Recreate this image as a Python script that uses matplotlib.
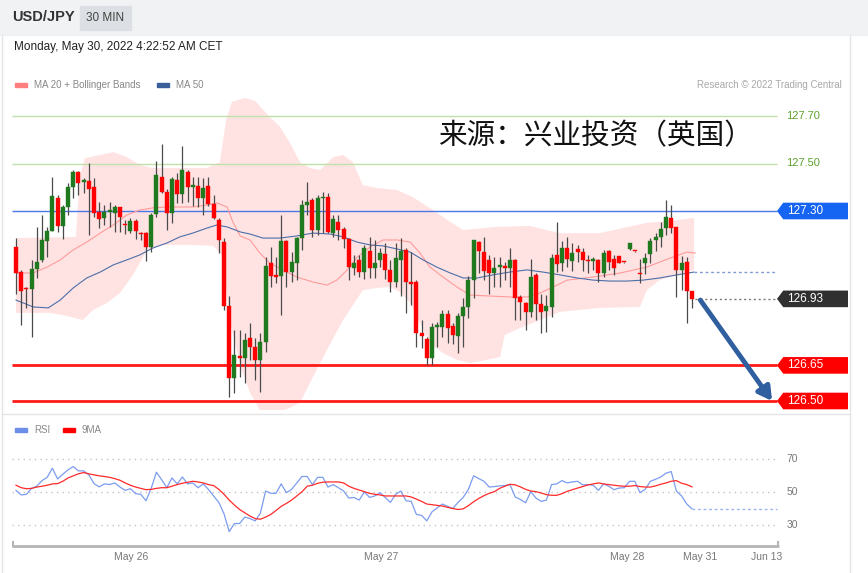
import numpy as np
import matplotlib
matplotlib.use("Agg")
import matplotlib.pyplot as plt
from matplotlib.patches import Rectangle, Polygon

plt.rcParams['font.family'] = ['Liberation Sans', 'DejaVu Sans']

# 30 min candles, index 0 = first candle on the left
opens = [127.150, 127.045, 126.975, 126.970, 127.054, 127.094, 127.175, 127.217, 127.353, 127.238,
         127.315, 127.402, 127.466, 127.421, 127.428, 127.402, 127.297, 127.272, 127.297, 127.290,
         127.315, 127.245, 127.217, 127.259, 127.209, 127.206, 127.150, 127.287, 127.445, 127.381,
         127.290, 127.430, 127.372, 127.463, 127.400, 127.405, 127.353, 127.405, 127.329, 127.262,
         127.171, 126.900, 126.595, 126.690, 126.680, 126.767, 126.729, 126.673, 126.748, 127.080,
         127.028, 127.026, 127.175, 127.044, 127.080, 127.185, 127.325, 127.346, 127.220, 127.353,
         127.357, 127.206, 127.252, 127.223, 127.181, 127.061, 127.094, 127.044, 127.133, 127.059,
         127.094, 127.119, 127.052, 127.002, 127.094, 127.136, 127.001, 127.001, 126.785, 126.762,
         126.680, 126.813, 126.813, 126.866, 126.817, 126.775, 126.858, 126.897, 127.009, 127.169,
         127.129, 127.094, 127.038, 127.066, 127.068, 127.061, 127.094, 126.936, 126.911, 126.876,
         127.030, 126.907, 126.880, 126.897, 127.113, 127.080, 127.143, 127.091, 127.139, 127.129,
         127.094, 127.091, 127.094, 127.040, 127.132, 127.098, 127.110, 127.086, 127.139, 127.131,
         127.039, 127.080, 127.119, 127.178, 127.192, 127.227, 127.269, 127.231, 127.052, 127.087,
         126.963]
highs = [127.185, 127.050, 126.981, 127.094, 127.234, 127.283, 127.234, 127.442, 127.367, 127.325,
         127.416, 127.473, 127.470, 127.437, 127.501, 127.437, 127.339, 127.325, 127.339, 127.325,
         127.318, 127.262, 127.269, 127.265, 127.213, 127.213, 127.290, 127.512, 127.582, 127.391,
         127.445, 127.459, 127.574, 127.473, 127.445, 127.445, 127.437, 127.445, 127.367, 127.269,
         127.185, 126.942, 126.799, 126.799, 126.785, 126.827, 126.764, 126.785, 127.108, 127.150,
         127.108, 127.283, 127.178, 127.129, 127.192, 127.346, 127.423, 127.353, 127.367, 127.381,
         127.374, 127.283, 127.283, 127.234, 127.185, 127.115, 127.115, 127.157, 127.189, 127.178,
         127.143, 127.164, 127.094, 127.164, 127.185, 127.143, 127.129, 127.009, 126.841, 126.771,
         126.830, 126.834, 126.883, 126.883, 126.827, 126.872, 126.932, 127.028, 127.180, 127.174,
         127.192, 127.115, 127.105, 127.108, 127.087, 127.143, 127.096, 126.946, 126.918, 127.096,
         127.038, 126.949, 126.946, 127.119, 127.255, 127.175, 127.192, 127.164, 127.157, 127.143,
         127.115, 127.108, 127.096, 127.136, 127.136, 127.115, 127.112, 127.087, 127.166, 127.132,
         127.100, 127.122, 127.185, 127.206, 127.255, 127.346, 127.325, 127.234, 127.110, 127.108,
         126.965]
lows = [126.950, 126.820, 126.890, 126.771, 127.016, 127.087, 127.108, 127.215, 127.213, 127.181,
        127.283, 127.353, 127.367, 127.374, 127.199, 127.276, 127.227, 127.241, 127.234, 127.213,
        127.213, 127.202, 127.206, 127.181, 127.178, 127.089, 127.129, 127.276, 127.374, 127.220,
        127.251, 127.332, 127.332, 127.339, 127.321, 127.315, 127.283, 127.321, 127.265, 127.122,
        126.883, 126.518, 126.532, 126.602, 126.574, 126.673, 126.588, 126.539, 126.708, 126.981,
        126.995, 126.862, 126.981, 127.002, 127.009, 127.136, 127.283, 127.192, 127.199, 127.206,
        127.206, 127.192, 127.178, 127.143, 127.009, 127.030, 127.023, 127.012, 127.016, 127.016,
        127.066, 127.012, 126.960, 126.981, 126.942, 126.872, 126.904, 126.729, 126.722, 126.652,
        126.652, 126.729, 126.771, 126.743, 126.740, 126.701, 126.729, 126.848, 126.932, 127.040,
        127.009, 126.949, 126.981, 126.981, 127.009, 126.981, 126.841, 126.841, 126.799, 126.855,
        126.841, 126.788, 126.792, 126.855, 127.045, 127.049, 127.066, 127.049, 127.087, 127.049,
        127.038, 127.052, 127.002, 127.023, 127.052, 127.030, 127.080, 127.083, 127.137, 127.129,
        126.998, 127.035, 127.080, 127.133, 127.150, 127.199, 127.206, 126.939, 126.967, 126.830,
        126.890]
closes = [127.037, 126.965, 126.970, 127.054, 127.087, 127.178, 127.216, 127.363, 127.238, 127.315,
          127.402, 127.466, 127.419, 127.430, 127.391, 127.293, 127.265, 127.297, 127.304, 127.318,
          127.273, 127.240, 127.259, 127.217, 127.203, 127.150, 127.283, 127.452, 127.381, 127.290,
          127.433, 127.372, 127.473, 127.400, 127.409, 127.353, 127.395, 127.329, 127.269, 127.178,
          126.900, 126.595, 126.694, 126.682, 126.757, 126.726, 126.673, 126.748, 127.068, 127.026,
          127.024, 127.175, 127.044, 127.084, 127.185, 127.325, 127.336, 127.220, 127.353, 127.357,
          127.213, 127.266, 127.220, 127.181, 127.066, 127.082, 127.044, 127.143, 127.059, 127.080,
          127.122, 127.052, 127.002, 127.101, 127.133, 127.002, 126.993, 126.788, 126.774, 126.680,
          126.813, 126.816, 126.866, 126.806, 126.778, 126.858, 126.897, 127.009, 127.178, 127.132,
          127.049, 127.038, 127.061, 127.070, 127.060, 127.094, 126.932, 126.918, 126.876, 127.021,
          126.907, 126.873, 126.901, 127.103, 127.075, 127.146, 127.099, 127.124, 127.129, 127.094,
          127.089, 127.093, 127.038, 127.124, 127.087, 127.059, 127.083, 127.085, 127.164, 127.130,
          127.034, 127.101, 127.175, 127.192, 127.223, 127.276, 127.230, 127.052, 127.082, 126.965,
          126.928]

# Bollinger band (MA 20) and MA 50, read at candle positions
bb_up_x = [0, 11.5, 12.3, 13.3, 16.2, 18.7, 21.3, 23.8, 26.3, 36.7, 39.2, 40.4, 41.5, 44, 46, 48.8,
           50.8, 52.7, 54.6, 56.5, 58.5, 61, 62.9, 64.8, 66.7, 69.4, 73.3, 76.3, 81, 83.5, 86, 92.1,
           98.8, 104.6, 112.3, 121, 127.3, 130.4]
bb_up = [127.186, 127.191, 127.452, 127.523, 127.536, 127.548, 127.527, 127.494, 127.481, 127.481,
         127.506, 127.683, 127.759, 127.776, 127.763, 127.696, 127.654, 127.586, 127.506, 127.481,
         127.473, 127.527, 127.536, 127.506, 127.409, 127.397, 127.388, 127.359, 127.292, 127.254,
         127.220, 127.233, 127.237, 127.207, 127.207, 127.249, 127.262, 127.271]
bb_low_x = [0, 6.5, 9.8, 12.9, 14.8, 17.5, 20, 22.5, 25.2, 27.7, 34, 37.9, 39.6, 41.2, 43.1, 45, 46.9,
            51.7, 54.6, 57.1, 59.8, 62.9, 66.7, 69.4, 71.9, 73.8, 75.8, 77.7, 79.6, 82.1, 84.8, 87.3,
            90.6, 93.1, 94, 96.9, 104.6, 112.3, 120, 121.3, 123.8, 130.4]
bb_low = [126.871, 126.871, 126.858, 126.841, 126.883, 126.913, 126.955, 127.031, 127.136, 127.157,
          127.157, 127.153, 127.115, 126.828, 126.652, 126.534, 126.462, 126.462, 126.492, 126.601,
          126.715, 126.841, 126.967, 126.976, 126.980, 126.959, 126.913, 126.828, 126.744, 126.702,
          126.673, 126.660, 126.673, 126.685, 126.778, 126.807, 126.875, 126.892, 126.896, 126.967,
          127.009, 127.052]
ma20_x = [0, 3.3, 6, 8.5, 11, 13.6, 16.2, 18.7, 21.3, 23.8, 26.3, 29, 34, 36.7, 38.6, 40.6, 41.7,
          43.1, 45, 46.9, 48.8, 51.3, 54, 57.1, 59.8, 61.7, 63.7, 65.6, 68.1, 70.6, 73.3, 75.8, 77.7,
          79.6, 82.1, 84.8, 87.3, 95, 98.3, 100.8, 103.3, 106, 111, 116.2, 121.3, 126.3, 129, 130.6]
ma20 = [127.039, 127.039, 127.064, 127.094, 127.136, 127.169, 127.207, 127.241, 127.283, 127.304,
        127.313, 127.317, 127.317, 127.325, 127.334, 127.317, 127.254, 127.195, 127.178, 127.123,
        127.081, 127.052, 127.022, 127.001, 126.988, 127.009, 127.052, 127.106, 127.148, 127.178,
        127.178, 127.169, 127.123, 127.064, 127.022, 126.980, 126.946, 126.938, 126.938, 126.955,
        126.980, 127.009, 127.022, 127.039, 127.064, 127.106, 127.127, 127.123]
ma50_x = [0, 3.3, 6.2, 8.5, 11, 13.6, 16.2, 18.7, 21.3, 23.8, 26.3, 29, 31.5, 34, 36.7, 38.6, 40.6,
          43.1, 45, 47.5, 50.8, 54, 57.1, 60.4, 62.9, 65.6, 68.1, 70.6, 73.3, 75.8, 78.3, 80.9, 83.5,
          86, 88.7, 91.7, 95, 98.3, 101.3, 104.6, 107.9, 111, 114.2, 117.5, 120.6, 123.8, 127.1, 130.4]
ma50 = [126.925, 126.896, 126.892, 126.925, 126.976, 127.018, 127.043, 127.073, 127.094, 127.115,
        127.144, 127.165, 127.191, 127.207, 127.228, 127.241, 127.233, 127.212, 127.203, 127.186,
        127.186, 127.195, 127.207, 127.203, 127.191, 127.169, 127.157, 127.153, 127.140, 127.127,
        127.094, 127.064, 127.039, 127.018, 127.018, 127.031, 127.043, 127.052, 127.043, 127.031,
        127.018, 127.009, 127.005, 127.005, 127.009, 127.018, 127.031, 127.043]

# RSI panel
rsi = [51.0, 48.2, 48.6, 52.2, 53.5, 56.9, 58.9, 64.4, 57.9, 60.8,
       63.4, 65.4, 62.8, 62.8, 60.4, 55.1, 53.1, 54.9, 54.5, 55.5,
       53.0, 51.0, 52.0, 49.0, 48.6, 44.7, 52.2, 62.0, 57.5, 52.6,
       58.5, 54.9, 59.1, 54.9, 55.5, 52.6, 54.9, 51.6, 47.6, 43.7,
       36.8, 26.0, 30.9, 30.9, 34.8, 33.9, 32.5, 37.2, 50.6, 49.2,
       49.2, 54.9, 49.6, 51.6, 55.5, 59.4, 59.4, 54.5, 58.9, 58.9,
       53.0, 54.5, 52.6, 50.6, 46.3, 46.7, 45.1, 50.0, 46.7, 47.6,
       49.6, 46.7, 43.7, 48.6, 50.6, 44.7, 44.3, 36.4, 35.8, 32.5,
       38.0, 40.4, 42.7, 41.3, 40.0, 43.7, 46.7, 51.6, 59.8, 58.1,
       56.5, 53.0, 53.3, 53.7, 53.9, 54.5, 47.0, 45.5, 43.5, 50.2,
       46.3, 44.3, 45.1, 54.5, 54.9, 56.9, 55.5, 56.1, 56.5, 54.3,
       54.5, 54.1, 51.0, 54.9, 53.5, 51.4, 52.4, 52.6, 56.5, 56.5,
       49.6, 51.6, 56.5, 57.7, 59.1, 61.4, 62.4, 50.6, 47.6, 42.7,
       39.8]
rsi_ma9 = [54.1, 52.6, 52.0, 52.2, 53.0, 53.5, 54.1, 54.9, 55.1, 56.5,
           58.5, 59.8, 61.0, 61.8, 61.0, 60.4, 59.8, 59.4, 58.9, 58.1,
           57.1, 55.5, 54.1, 53.0, 52.2, 51.4, 51.6, 52.2, 52.6, 52.6,
           53.5, 54.5, 55.3, 55.9, 56.5, 56.1, 55.5, 54.5, 53.9, 51.6,
           48.6, 45.1, 42.1, 39.4, 37.4, 35.4, 33.9, 33.5, 34.8, 36.4,
           38.8, 41.3, 43.1, 45.1, 47.6, 50.2, 53.5, 54.1, 55.3, 55.9,
           56.1, 56.1, 56.1, 55.5, 53.5, 52.2, 51.2, 50.2, 49.2, 48.6,
           48.2, 47.6, 47.6, 47.6, 47.6, 47.6, 47.0, 45.7, 44.3, 42.7,
           42.3, 41.9, 41.5, 40.7, 40.0, 39.4, 39.8, 41.7, 44.1, 46.1,
           47.8, 49.2, 50.2, 52.2, 53.5, 54.7, 54.3, 53.1, 51.6, 50.6,
           50.2, 49.4, 48.4, 48.0, 48.0, 49.0, 50.4, 51.4, 52.4, 53.3,
           54.3, 54.9, 55.5, 54.9, 54.5, 54.1, 53.7, 53.5, 53.5, 53.9,
           53.3, 53.0, 53.0, 53.7, 54.7, 55.5, 56.5, 56.9, 55.3, 54.5,
           53.1]
rsi_levels = [70, 50, 30]

date_ticks = [22.1, 70.2, 117.5, 131.5, 144.4]
date_labels = ['May 26', 'May 27', 'May 28', 'May 31', 'Jun 13']

resistances = [127.70, 127.50]
pivot = 127.30
supports = [126.65, 126.50]
last_price = 126.93
target = 126.50

W, H = 868, 573
fig = plt.figure(figsize=(W / 100, H / 100), dpi=100)


def fx(px):
    return px / W


def fy(py):
    return 1 - py / H


# header band and frame
fig.patches.append(Rectangle((0, fy(35)), 1, 35 / H, transform=fig.transFigure,
                             color='#f1f2f4', zorder=0))
fig.patches.append(Rectangle((fx(80), fy(30)), 51 / W, 24 / H, transform=fig.transFigure,
                             color='#dcdfe3', zorder=1))
fig.lines.append(plt.Line2D([fx(850), fx(850)], [fy(35), 0], transform=fig.transFigure,
                            color='#e3e5e8', lw=1))
fig.lines.append(plt.Line2D([fx(2), fx(2)], [fy(35), 0], transform=fig.transFigure,
                            color='#e3e5e8', lw=1))
fig.lines.append(plt.Line2D([fx(2), fx(850)], [fy(414), fy(414)], transform=fig.transFigure,
                            color='#e3e5e8', lw=1))
fig.text(fx(12), fy(17), 'USD/JPY', fontsize=10.5, fontweight='bold', color='#333333', va='center')
fig.text(fx(105.5), fy(18), '30 MIN', fontsize=8.5, color='#444444', va='center', ha='center')
fig.text(fx(14), fy(47), 'Monday, May 30, 2022 4:22:52 AM CET', fontsize=8.5, color='#222222',
         va='center')

# legends
fig.patches.append(Rectangle((fx(15), fy(87)), 12 / W, 4 / H, transform=fig.transFigure, color='#ff7f7f'))
fig.text(fx(34), fy(85), 'MA 20 + Bollinger Bands', fontsize=7, color='#888888', va='center')
fig.patches.append(Rectangle((fx(157), fy(87)), 12 / W, 4 / H, transform=fig.transFigure, color='#3a5f9a'))
fig.text(fx(176), fy(85), 'MA 50', fontsize=7, color='#888888', va='center')
fig.text(fx(842), fy(85), 'Research © 2022 Trading Central', fontsize=7, color='#a8a8a8',
         va='center', ha='right')
fig.patches.append(Rectangle((fx(15), fy(432)), 12 / W, 4 / H, transform=fig.transFigure, color='#6b8ee8'))
fig.text(fx(34), fy(430), 'RSI', fontsize=7, color='#888888', va='center')
fig.patches.append(Rectangle((fx(63), fy(432)), 12 / W, 4 / H, transform=fig.transFigure, color='#ff0000'))
fig.text(fx(82), fy(430), '9MA', fontsize=7, color='#888888', va='center')

x_left = (12 - 16) / 5.2
x_right = (850 - 16) / 5.2
x_line_end = (777 - 16) / 5.2

# ---- main price chart ----
ax = fig.add_axes([fx(12), fy(412), fx(850) - fx(12), (412 - 95) / H])
ax.set_xlim(x_left, x_right)
ax.set_ylim(127.70 - (412 - 116) / 237.5, 127.70 + (116 - 95) / 237.5)
ax.axis('off')

band = Polygon(list(zip(bb_up_x, bb_up)) + list(zip(bb_low_x, bb_low))[::-1],
               closed=True, facecolor='#ffe3e3', edgecolor='none', zorder=1)
ax.add_patch(band)
ax.plot(ma20_x, ma20, color='#ff9a9a', lw=0.8, zorder=2)
ax.plot(ma50_x, ma50, color='#4b6fa8', lw=0.8, zorder=2)
ax.plot([ma50_x[-1], x_line_end], [ma50[-1], ma50[-1]], color='#7d9bd0', lw=1, ls=(0, (2, 2)), zorder=2)

for lv in resistances:
    ax.hlines(lv, x_left, x_line_end, color='#bfe0a8', lw=1, zorder=1.5)
    ax.text(148.1, lv, '%.2f' % lv, color='#5ba22c', fontsize=8, va='center')
ax.hlines(pivot, x_left, x_line_end, color='#4a78e6', lw=1, zorder=1.5)
for lv in supports:
    ax.hlines(lv, x_left, x_line_end, color='#ff1a1a', lw=2, zorder=1.5)

n = len(opens)
idx = np.arange(n)
ax.plot([n - 0.5, x_line_end], [last_price, last_price], color='#777777', lw=1, ls=(0, (1.5, 2)), zorder=2)

for i in idx:
    o, h, l, c = opens[i], highs[i], lows[i], closes[i]
    col = '#1f7a1f' if c >= o else '#ff0000'
    ax.vlines(i, l, h, color='#4a4a4a', lw=0.9, zorder=3)
    bottom = min(o, c)
    height = max(abs(c - o), 0.005)
    ax.add_patch(Rectangle((i - 0.37, bottom), 0.74, height, facecolor=col,
                           edgecolor=col, lw=0.3, zorder=4))


def price_tag(level, face, text_col='white'):
    hh = 0.035
    pts = [(x_line_end, level), (x_line_end + 1.2, level + hh), (160.0, level + hh),
           (160.0, level - hh), (x_line_end + 1.2, level - hh)]
    ax.add_patch(Polygon(pts, closed=True, facecolor=face, edgecolor='none', zorder=5))
    ax.text(x_line_end + 1.9, level, '%.2f' % level, color=text_col, fontsize=8.5,
            va='center', zorder=6)


price_tag(pivot, '#1664f2')
price_tag(last_price, '#303030')
for lv in supports:
    price_tag(lv, '#ff0000')

ax.annotate('', xy=(145.4, target), xytext=(n + 0.6, last_price - 0.005),
            arrowprops=dict(arrowstyle='-|>,head_length=0.8,head_width=0.45', lw=3.5,
                            color='#2f5f9e', shrinkA=0, shrinkB=0), zorder=6)

fig.text(fx(438), fy(136), '来源：兴业投资（英国）', fontsize=20.6, color='#111111', va='center',
         family=['Noto Sans CJK SC', 'DejaVu Sans'])

# ---- RSI panel ----
ax2 = fig.add_axes([fx(12), fy(548), fx(850) - fx(12), (548 - 438) / H])
ax2.set_xlim(x_left, x_right)
ax2.set_ylim(50 - (548 - 492) / 1.65, 50 + (492 - 438) / 1.65)
ax2.axis('off')
for lv in rsi_levels:
    ax2.hlines(lv, x_left, x_line_end, color='#c4c4c4', lw=1, ls=(0, (1, 3)))
    ax2.text(148.2, lv, str(lv), color='#777777', fontsize=7.5, va='center')
ax2.plot(idx, rsi, color='#7b9cf0', lw=0.9)
ax2.plot(idx, rsi_ma9, color='#ff2a2a', lw=0.9)
ax2.plot([n - 1, x_line_end], [rsi[-1], rsi[-1]], color='#9db4f2', lw=1, ls=(0, (2, 2)))

base = 50 - (546 - 492) / 1.65
ax2.plot([x_left, (779 - 16) / 5.2], [base, base], color='#b5b5b5', lw=2, solid_capstyle='butt')
for xt in [x_left + 0.1, (779 - 16) / 5.2 - 0.1]:
    ax2.plot([xt, xt], [base, base + 2.5], color='#b5b5b5', lw=1.5)
for pos, lab in zip(date_ticks, date_labels):
    ax2.text(pos, -0.08, lab, transform=ax2.get_xaxis_transform(), ha='center', va='center',
             fontsize=7.5, color='#777777')

fig.savefig('out.png', dpi=100)
